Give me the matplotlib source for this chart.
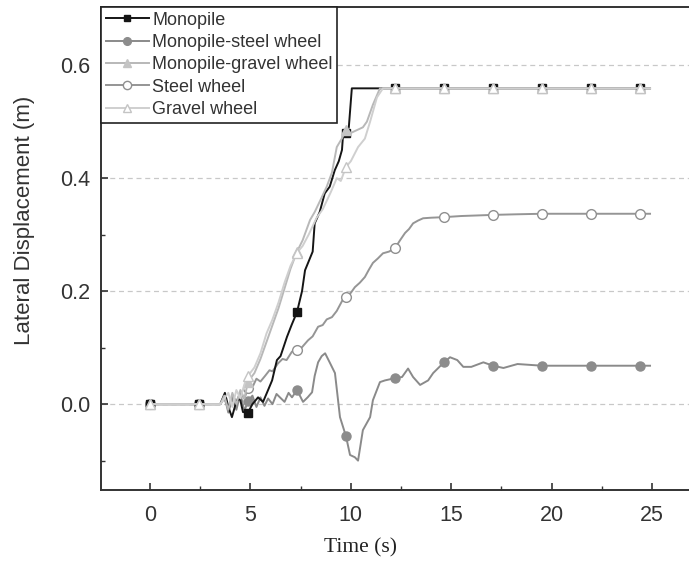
import numpy as np
import matplotlib
matplotlib.use("Agg")
import matplotlib.pyplot as plt
from matplotlib.ticker import MultipleLocator

plt.rcParams["font.family"] = ["Liberation Sans", "DejaVu Sans"]

# ---------------- data ----------------
marker_times = [0, 2.44, 4.88, 7.32, 9.76, 12.2, 14.64, 17.08, 19.52, 21.96, 24.4]

t_monopile = [0, 2.44, 3.5, 3.73, 3.9, 4.08, 4.3, 4.48, 4.63, 4.88, 5.1, 5.38, 5.63, 5.88,
              6.08, 6.32, 6.5, 6.82, 7.05, 7.32, 7.57, 7.72, 7.87, 8.1, 8.2, 8.45, 8.7,
              8.95, 9.2, 9.4, 9.56, 9.62, 9.76, 9.9, 10.05, 11.45, 12.2, 14.64, 17.08,
              19.52, 21.96, 24.4, 24.9]
y_monopile = [0, 0, 0, 0.02, -0.005, -0.023, 0.005, 0.01, -0.014, -0.015, 0.0, 0.012, 0.004,
              0.025, 0.042, 0.078, 0.085, 0.119, 0.14, 0.163, 0.2, 0.237, 0.25, 0.27, 0.32,
              0.34, 0.373, 0.385, 0.414, 0.43, 0.45, 0.48, 0.48, 0.49, 0.559, 0.559, 0.559,
              0.559, 0.559, 0.559, 0.559, 0.559, 0.559]

t_mono_steel = [0, 2.44, 3.5, 3.7, 3.9, 4.1, 4.3, 4.5, 4.7, 4.88, 5.1, 5.3, 5.5, 5.7, 5.88,
                6.1, 6.3, 6.47, 6.7, 6.9, 7.07, 7.32, 7.62, 7.85, 8.07, 8.2, 8.37, 8.55,
                8.72, 8.96, 9.21, 9.46, 9.76, 9.96, 10.2, 10.36, 10.6, 10.96, 11.1, 11.45,
                11.7, 12.2, 12.55, 12.85, 13.1, 13.45, 13.85, 14.1, 14.64, 14.94, 15.3,
                15.6, 16.0, 16.6, 17.08, 17.6, 18.3, 19.52, 21.96, 24.4, 24.9]
y_mono_steel = [0, 0, 0, 0.015, -0.015, 0.01, -0.01, 0.018, -0.012, 0.005, 0.015, -0.005,
                0.012, -0.003, 0.01, 0.0, 0.018, 0.012, 0.004, 0.02, 0.012, 0.025, 0.004,
                0.012, 0.021, 0.05, 0.074, 0.085, 0.09, 0.073, 0.055, -0.023, -0.057,
                -0.09, -0.094, -0.1, -0.046, -0.023, 0.007, 0.039, 0.042, 0.046, 0.048,
                0.063, 0.048, 0.034, 0.042, 0.055, 0.074, 0.083, 0.078, 0.066, 0.066,
                0.074, 0.068, 0.064, 0.071, 0.068, 0.068, 0.068, 0.068]

t_mono_gravel = [0, 2.44, 3.5, 3.7, 3.9, 4.1, 4.3, 4.5, 4.7, 4.88, 5.2, 5.5, 5.8, 6.1, 6.4,
                 6.7, 7.0, 7.32, 7.6, 7.97, 8.2, 8.47, 8.8, 9.06, 9.3, 9.55, 9.76, 10.0,
                 10.3, 10.6, 10.8, 11.1, 11.45, 12.2, 14.64, 17.08, 19.52, 21.96, 24.4, 24.9]
y_mono_gravel = [0, 0, 0, 0.015, -0.01, 0.02, 0.0, 0.025, 0.01, 0.04, 0.055, 0.08, 0.11,
                 0.14, 0.17, 0.205, 0.24, 0.27, 0.29, 0.326, 0.34, 0.36, 0.385, 0.41, 0.455,
                 0.47, 0.485, 0.48, 0.485, 0.49, 0.5, 0.53, 0.559, 0.559, 0.559, 0.559,
                 0.559, 0.559, 0.559, 0.559]

t_steel = [0, 2.44, 3.5, 3.7, 3.9, 4.1, 4.3, 4.5, 4.7, 4.88, 5.1, 5.3, 5.5, 5.73, 5.95, 6.1,
           6.37, 6.6, 6.8, 7.07, 7.32, 7.55, 7.87, 8.1, 8.37, 8.6, 8.8, 9.06, 9.3, 9.6, 9.76,
           10.0, 10.2, 10.45, 10.7, 10.9, 11.1, 11.35, 11.6, 11.9, 12.2, 12.45, 12.7, 12.9,
           13.1, 13.35, 13.6, 14.0, 14.64, 15.5, 16.3, 17.08, 18.2, 19.52, 21.96, 24.4, 24.9]
y_steel = [0, 0, 0, 0.01, -0.008, 0.015, 0.005, 0.02, 0.01, 0.028, 0.03, 0.045, 0.04, 0.05,
           0.06, 0.058, 0.072, 0.08, 0.078, 0.093, 0.096, 0.1, 0.113, 0.12, 0.137, 0.14,
           0.15, 0.154, 0.165, 0.185, 0.19, 0.197, 0.207, 0.215, 0.225, 0.238, 0.25, 0.258,
           0.267, 0.27, 0.276, 0.29, 0.303, 0.31, 0.32, 0.325, 0.329, 0.33, 0.331, 0.333,
           0.334, 0.335, 0.336, 0.337, 0.337, 0.337, 0.337]

t_gravel = [0, 2.44, 3.5, 3.7, 3.9, 4.1, 4.3, 4.5, 4.7, 4.88, 5.2, 5.5, 5.8, 6.1, 6.4, 6.7,
            7.0, 7.32, 7.6, 7.9, 8.3, 8.6, 9.0, 9.3, 9.5, 9.76, 10.0, 10.36, 10.7, 10.96,
            11.3, 11.6, 12.2, 14.64, 17.08, 19.52, 21.96, 24.4, 24.9]
y_gravel = [0, 0, 0, 0.01, 0.02, -0.005, 0.025, 0.01, 0.035, 0.05, 0.065, 0.09, 0.125, 0.15,
            0.18, 0.215, 0.245, 0.268, 0.28, 0.3, 0.33, 0.345, 0.375, 0.4, 0.395, 0.42, 0.43,
            0.455, 0.47, 0.5, 0.543, 0.559, 0.559, 0.559, 0.559, 0.559, 0.559, 0.559, 0.559]

labels = ["Monopile", "Monopile-steel wheel", "Monopile-gravel wheel", "Steel wheel", "Gravel wheel"]
x_ticks = [0, 5, 10, 15, 20, 25]
y_ticks = [0.0, 0.2, 0.4, 0.6]


def mark_idx(t):
    t = np.asarray(t)
    return [int(np.argmin(np.abs(t - m))) for m in marker_times if np.min(np.abs(t - m)) < 1e-6]


fig = plt.figure(figsize=(6.89, 5.64), dpi=100)
ax = fig.add_axes([0.1466, 0.1312, 0.8534, 0.8564])

lw = 1.4
h_mono, = ax.plot(t_monopile, y_monopile, color="#151515", lw=lw, marker="s", ms=5.5,
                  mfc="#151515", mec="#151515", markevery=mark_idx(t_monopile), zorder=5)
h_msteel, = ax.plot(t_mono_steel, y_mono_steel, color="#8a8a8a", lw=lw, marker="o", ms=6.5,
                    mfc="#8c8c8c", mec="#8c8c8c", markevery=mark_idx(t_mono_steel), zorder=4)
h_steel, = ax.plot(t_steel, y_steel, color="#959595", lw=lw, marker="o", ms=7,
                   mfc="white", mec="#8f8f8f", markevery=mark_idx(t_steel), zorder=4)
h_mgrav, = ax.plot(t_mono_gravel, y_mono_gravel, color="#b8b8b8", lw=lw, marker="^", ms=6.5,
                   mfc="#c4c4c4", mec="#c4c4c4", markevery=mark_idx(t_mono_gravel), zorder=6)
h_grav, = ax.plot(t_gravel, y_gravel, color="#cfcfcf", lw=lw, marker="^", ms=7,
                  mfc="white", mec="#c4c4c4", markevery=mark_idx(t_gravel), zorder=6)

ax.set_xlim(-2.44, 26.84)
ax.set_ylim(-0.152, 0.703)
ax.set_xticks(x_ticks)
ax.set_yticks(y_ticks)
ax.xaxis.set_minor_locator(MultipleLocator(2.5))
ax.yaxis.set_minor_locator(MultipleLocator(0.1))
ax.set_yticklabels([f"{v:.1f}" for v in y_ticks])
ax.tick_params(which="major", direction="in", length=5, width=1.2, labelsize=15.5,
               labelcolor="#333333", color="#333333")
ax.tick_params(which="minor", direction="in", length=3, width=1.0, color="#333333")
ax.tick_params(axis="x", pad=11)
ax.tick_params(axis="y", pad=8)

ax.grid(axis="y", which="major", linestyle=(0, (4, 3)), color="#c8c8c8", lw=0.9)
ax.set_axisbelow(True)

for s in ["left", "bottom", "top"]:
    ax.spines[s].set_color("#333333")
    ax.spines[s].set_linewidth(1.4)
ax.spines["right"].set_visible(False)

ax.set_xlabel("Time (s)", family="Liberation Serif", fontsize=15.5, color="#222222")
ax.xaxis.set_label_coords(0.442, -0.1)
ax.set_ylabel("Lateral Displacement (m)", fontsize=16, color="#333333")
ax.yaxis.set_label_coords(-0.112, 0.559)

leg = ax.legend([h_mono, h_msteel, h_mgrav, h_steel, h_grav], labels,
                loc="upper left", bbox_to_anchor=(0.0, 1.0), fontsize=13,
                frameon=True, fancybox=False, framealpha=1, edgecolor="#222222",
                borderaxespad=0, handlelength=2.4, handletextpad=0.2,
                labelspacing=0.3, borderpad=0.25, markerscale=0.85)
leg.get_frame().set_linewidth(1.2)
leg.set_zorder(10)
for txt in leg.get_texts():
    txt.set_color("#333333")

fig.savefig("out.png", dpi=100)
